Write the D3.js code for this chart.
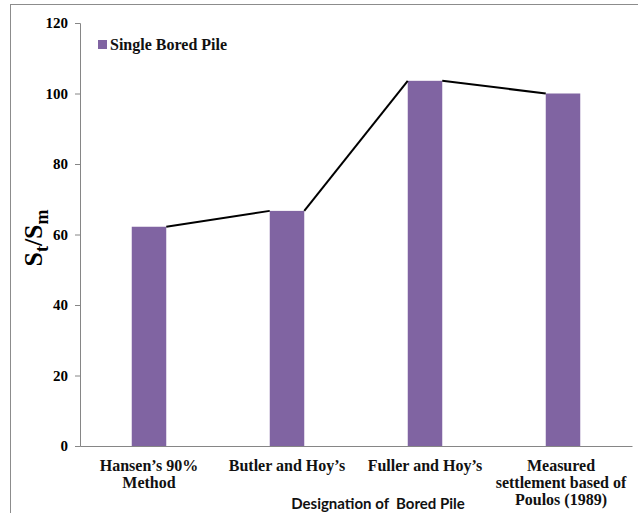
<!DOCTYPE html>
<html>
<head>
<meta charset="utf-8">
<script src="https://cdn.jsdelivr.net/npm/d3@7/dist/d3.min.js"></script>
<style>
  body { margin: 0; background: #fff; }
  svg { display: block; }
</style>
</head>
<body>
<div id="chart"></div>
<script>
// data
var categories = ["Hansen\u2019s 90% Method", "Butler and Hoy\u2019s", "Fuller and Hoy\u2019s", "Measured settlement based of Poulos (1989)"];
var labelLines = [["Hansen\u2019s 90%", "Method"], ["Butler and Hoy\u2019s"], ["Fuller and Hoy\u2019s"], ["Measured", "settlement based of", "Poulos (1989)"]];
var values = [62.2, 66.7, 103.6, 100];
var yTicks = [0, 20, 40, 60, 80, 100, 120];
var seriesName = "Single Bored Pile";

(function () {
      var width = 638, height = 513;
      var mLeft = 80, mRight = 632, mTop = 23, mBottom = 446;
      var serif = "'Liberation Serif', 'Times New Roman', serif";

      var svg = d3.select('#chart').append('svg')
            .attr('width', width)
            .attr('height', height);

      //outer frame (runs off the right and bottom edge)
      svg.append('rect')
            .attr('x', 10.5).attr('y', 4.5)
            .attr('width', 660).attr('height', 540)
            .attr('fill', 'none')
            .attr('stroke', '#8c8c8c');

      var x = d3.scaleBand().domain(categories).range([mLeft, mRight])
            .paddingInner(0.75).paddingOuter(0.375);
      var y = d3.scaleLinear().domain([0, 120]).range([mBottom, mTop]);

      //bars
      svg.selectAll('rect.bar')
            .data(values)
            .enter().append('rect')
            .attr('class', 'bar')
            .attr('x', function (d, i) { return x(categories[i]); })
            .attr('y', function (d) { return y(d); })
            .attr('width', x.bandwidth())
            .attr('height', function (d) { return y(0) - y(d); })
            .attr('fill', '#8064a2');

      //connector line between bar tops
      var pts = [];
      values.forEach(function (d, i) {
            pts.push([x(categories[i]), y(d)]);
            pts.push([x(categories[i]) + x.bandwidth(), y(d)]);
      });
      pts = pts.slice(1, -1);
      for (var i = 0; i < pts.length; i += 2) {
            svg.append('line')
                  .attr('x1', pts[i][0]).attr('y1', pts[i][1])
                  .attr('x2', pts[i + 1][0]).attr('y2', pts[i + 1][1])
                  .attr('stroke', '#000')
                  .attr('stroke-width', 2);
      }

      //y axis
      var yAxis = svg.append('g')
            .attr('transform', 'translate(' + mLeft + ',0)')
            .call(d3.axisLeft(y).tickValues(yTicks).tickSize(5).tickPadding(7));
      yAxis.selectAll('line, path').attr('stroke', '#868686');
      yAxis.selectAll('text')
            .style('font-family', serif)
            .style('font-weight', 'bold')
            .style('font-size', '15px')
            .attr('fill', '#000');

      //x axis line only
      var xAxis = svg.append('g')
            .attr('transform', 'translate(0,' + mBottom + ')')
            .call(d3.axisBottom(x).tickSize(0).tickFormat(''));
      xAxis.select('path').attr('stroke', '#868686');

      //category labels
      var lab = svg.selectAll('text.cat')
            .data(categories)
            .enter().append('text')
            .attr('class', 'cat')
            .attr('text-anchor', 'middle')
            .style('font-family', serif)
            .style('font-weight', 'bold')
            .style('font-size', '16px')
            .attr('fill', '#111');
      lab.each(function (c, i) {
            var cx = x(c) + x.bandwidth() / 2 - (i === 3 ? 2 : 0);
            d3.select(this).selectAll('tspan')
                  .data(labelLines[i])
                  .enter().append('tspan')
                  .attr('x', cx)
                  .attr('y', function (t, j) { return 471 + j * 17; })
                  .text(function (t) { return t; });
      });

      //x axis title
      svg.append('text')
            .attr('x', 378).attr('y', 509)
            .attr('text-anchor', 'middle')
            .style('font-family', "Lato, 'Open Sans', sans-serif")
            .style('font-weight', 'bold')
            .style('font-size', '15px')
            .style('white-space', 'pre')
            .attr('fill', '#111')
            .text('Designation of  Bored Pile');

      //y axis title
      var yt = svg.append('text')
            .attr('transform', 'translate(42,238) rotate(-90)')
            .attr('text-anchor', 'middle')
            .style('font-family', serif)
            .style('font-weight', 'bold')
            .style('font-size', '26px')
            .attr('fill', '#000');
      yt.append('tspan').text('S');
      yt.append('tspan').attr('dy', 6).style('font-size', '18px').text('t');
      yt.append('tspan').attr('dy', -6).text('/S');
      yt.append('tspan').attr('dy', 6).style('font-size', '18px').text('m');

      //legend
      svg.append('rect')
            .attr('x', 98).attr('y', 40)
            .attr('width', 9).attr('height', 9)
            .attr('fill', '#8064a2');
      svg.append('text')
            .attr('x', 110).attr('y', 50)
            .style('font-family', serif)
            .style('font-weight', 'bold')
            .style('font-size', '16px')
            .attr('fill', '#111')
            .text(seriesName);
})();
</script>
</body>
</html>
